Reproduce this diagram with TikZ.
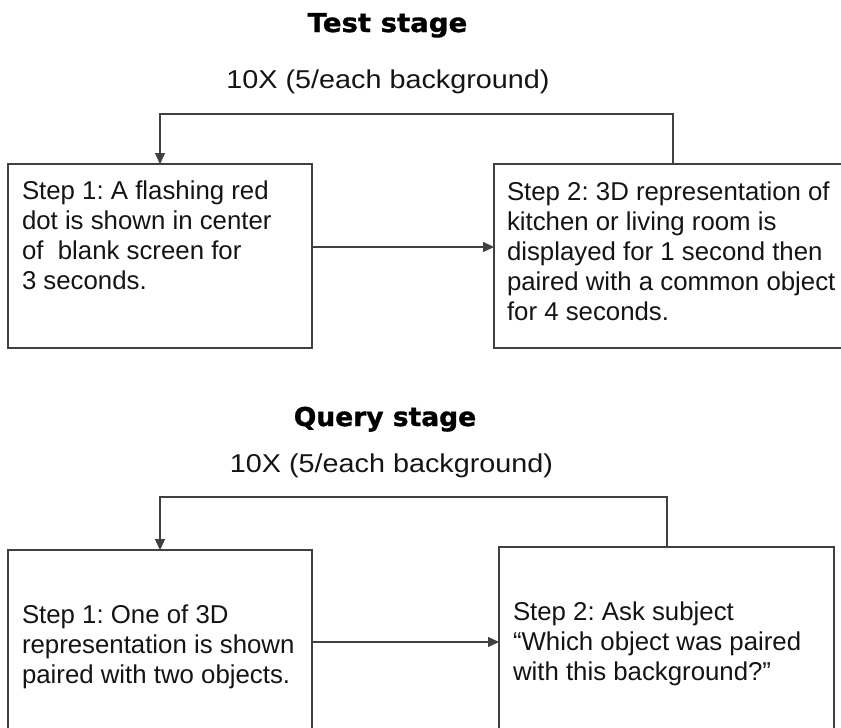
\documentclass[tikz,border=0pt]{standalone}
\usepackage{fontspec}
\setmainfont{Liberation Sans}
\newfontfamily\titlefont[BoldFont={DejaVu Sans Bold},BoldFeatures={FakeBold=1.2}]{DejaVu Sans}
\usetikzlibrary{arrows.meta}
\frenchspacing
\begin{document}
\begin{tikzpicture}[x=1pt,y=-1pt,
  boxnode/.style={draw=black!75, line width=1.2pt, rectangle, inner sep=0pt, outer sep=0pt, anchor=north west},
  bodytext/.style={anchor=north west, inner sep=0pt, outer sep=0pt, align=left, text=black!92, font=\fontsize{25.8pt}{30pt}\selectfont},
  titletext/.style={anchor=base, inner sep=0pt, outer sep=0pt, text=black, font=\titlefont\bfseries\fontsize{26pt}{30pt}\selectfont},
  subtext/.style={anchor=base, inner sep=0pt, outer sep=0pt, text=black!92, font=\fontsize{25.8pt}{30pt}\selectfont},
  conn/.style={draw=black!75, line width=1.2pt},
  arr/.style={conn, -{Triangle[length=11pt,width=10pt]}}
]
\useasboundingbox (0,0) rectangle (841,728);

% ---------- Test stage ----------
\node[titletext] (title1) at (387.5,32) {\scalebox{1.06}[1]{Test stage}};
\node[subtext] (sub1) at (388,88) {\scalebox{1.115}[1]{10X (5/each background)}};

\node[boxnode, minimum width=304pt, minimum height=184pt] (b1) at (8,164) {};
\node[boxnode, minimum width=360pt, minimum height=184pt] (b2) at (494,164) {};

\node[bodytext] (t1) at (22,181) {Step 1: A flashing red\\dot is shown in center\\of\ \ blank screen for\\3 seconds.};
\node[bodytext] (t2) at (507,182) {Step 2: 3D representation of\\kitchen or living room is\\displayed for 1 second then\\paired with a common object\\for 4 seconds.};

\coordinate (h1) at (312,247);
\draw[arr] (h1) -- (h1 -| b2.west);

\coordinate (l1r) at (673,114);
\coordinate (l1l) at (160,114);
\draw[arr] (l1r |- b2.north) -- (l1r) -- (l1l) -- (l1l |- b1.north);

% ---------- Query stage ----------
\node[titletext] (title2) at (385,426) {\scalebox{1.02}[1]{Query stage}};
\node[subtext] (sub2) at (391.5,472) {\scalebox{1.115}[1]{10X (5/each background)}};

\node[boxnode, minimum width=304pt, minimum height=200pt] (b3) at (8,550) {};
\node[boxnode, minimum width=335pt, minimum height=200pt] (b4) at (499,547) {};

\node[bodytext] (t3) at (22,605) {Step 1: One of 3D\\representation is shown\\paired with two objects.};
\node[bodytext] (t4) at (513,602) {Step 2: Ask subject\\“Which object was paired\\with this background?”};

\coordinate (h2) at (312,642);
\draw[arr] (h2) -- (h2 -| b4.west);

\coordinate (l2r) at (667,497);
\coordinate (l2l) at (160,497);
\draw[arr] (l2r |- b4.north) -- (l2r) -- (l2l) -- (l2l |- b3.north);
\end{tikzpicture}
\end{document}
